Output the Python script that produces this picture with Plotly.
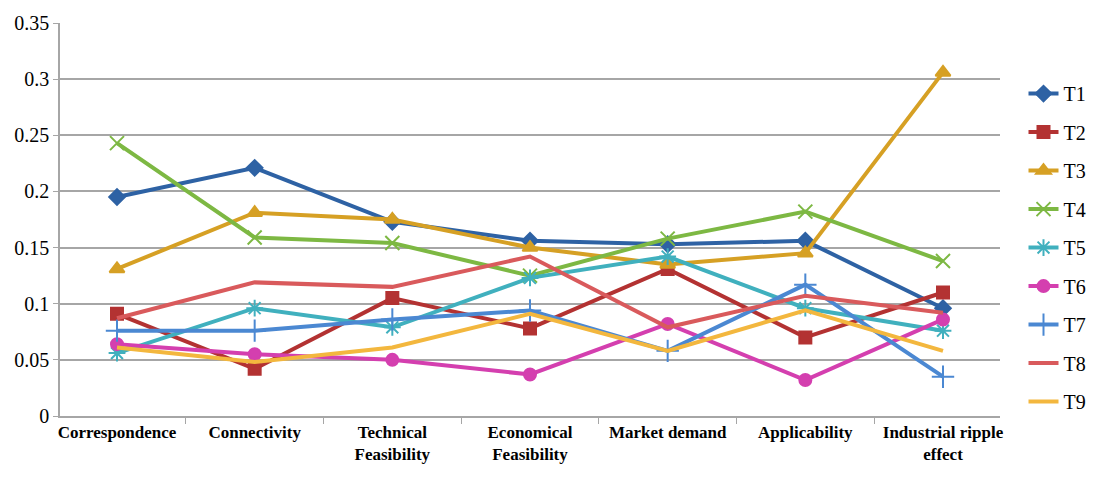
import plotly.graph_objects as go

categories = ["Correspondence", "Connectivity", "Technical<br>Feasibility", "Economical<br>Feasibility",
              "Market demand", "Applicability", "Industrial ripple<br>effect"]

T1 = [0.195, 0.221, 0.173, 0.156, 0.153, 0.156, 0.096]
T2 = [0.091, 0.042, 0.105, 0.078, 0.131, 0.070, 0.110]
T3 = [0.131, 0.181, 0.175, 0.150, 0.135, 0.145, 0.306]
T4 = [0.243, 0.159, 0.154, 0.125, 0.158, 0.182, 0.138]
T5 = [0.056, 0.096, 0.079, 0.123, 0.142, 0.096, 0.076]
T6 = [0.064, 0.055, 0.050, 0.037, 0.082, 0.032, 0.086]
T7 = [0.076, 0.076, 0.086, 0.094, 0.058, 0.117, 0.035]
T8 = [0.087, 0.119, 0.115, 0.142, 0.079, 0.107, 0.092]
T9 = [0.061, 0.048, 0.061, 0.091, 0.058, 0.094, 0.058]

series = [("T1", T1), ("T2", T2), ("T3", T3), ("T4", T4), ("T5", T5),
          ("T6", T6), ("T7", T7), ("T8", T8), ("T9", T9)]

colors = ["#2E62A4", "#B33232", "#D6A024", "#7DB843", "#40B0BE",
          "#D43FAF", "#4B88D2", "#D95A5C", "#F3B73E"]
symbols = ["diamond", "square", "triangle-up", "x-thin-open", "asterisk-open",
           "circle", "cross-thin-open", None, None]
sizes = [12, 12, 13, 14, 14, 12, 16, 0, 0]

ytickvals = [0, 0.05, 0.1, 0.15, 0.2, 0.25, 0.3, 0.35]
yticktext = ["0", "0.05", "0.1", "0.15", "0.2", "0.25", "0.3", "0.35"]

SERIF = "Liberation Serif, Times New Roman, serif"

fig = go.Figure()
for (name, vals), c, s, sz in zip(series, colors, symbols, sizes):
    if s is None:
        fig.add_trace(go.Scatter(x=categories, y=vals, name=name, mode="lines",
                                 line=dict(color=c, width=4), legendgroup=name))
    else:
        fig.add_trace(go.Scatter(x=categories, y=vals, name=name, mode="lines+markers",
                                 line=dict(color=c, width=4),
                                 marker=dict(symbol=s, size=sz, color=c,
                                             line=dict(color=c, width=2)),
                                 legendgroup=name))

fig.update_layout(
    width=1104, height=477,
    margin=dict(l=60, r=100, t=20, b=61),
    paper_bgcolor="white", plot_bgcolor="white",
    font=dict(family=SERIF, color="black"),
    showlegend=True,
    legend=dict(x=1.025, y=0.87, xanchor="left", yanchor="top",
                font=dict(family=SERIF, size=20, color="black"),
                tracegroupgap=9.5, itemwidth=30, bgcolor="rgba(0,0,0,0)"),
)
fig.update_xaxes(type="category", showline=True, linecolor="#A6A6A6", linewidth=1.5,
                 ticks="outside", tickson="boundaries", ticklen=6, tickcolor="#A6A6A6",
                 showgrid=False,
                 tickfont=dict(family=SERIF, size=17, color="black", weight="bold"))
fig.update_yaxes(range=[0, 0.35], tickvals=ytickvals, ticktext=yticktext,
                 showline=True, linecolor="#A6A6A6", linewidth=1.5,
                 ticks="outside", ticklen=5, tickcolor="#A6A6A6",
                 showgrid=True, gridcolor="#A6A6A6", gridwidth=1.5, zeroline=False,
                 tickfont=dict(family=SERIF, size=20, color="black"))

fig.write_html("out.html")
